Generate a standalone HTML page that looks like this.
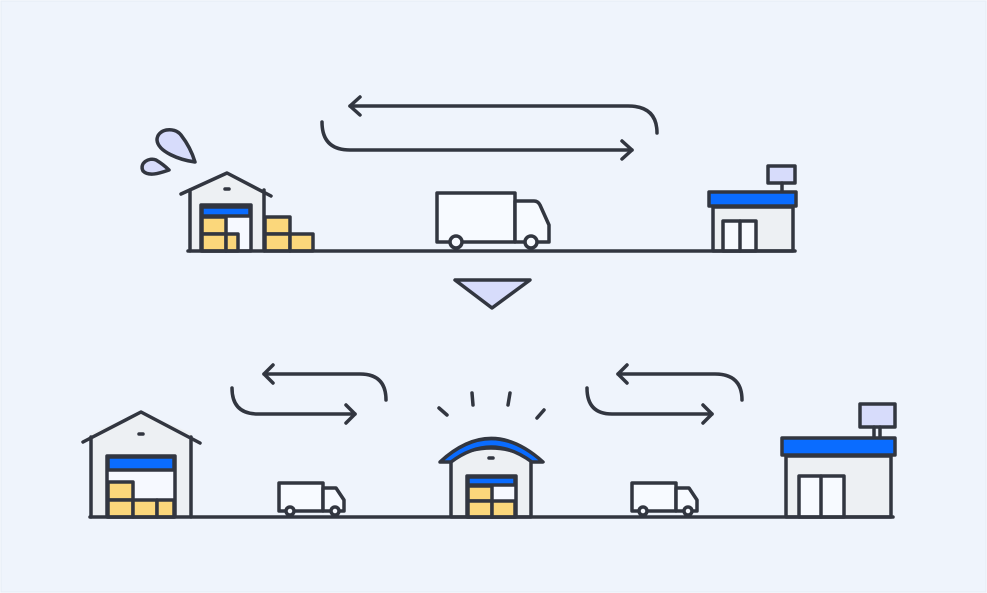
<!DOCTYPE html>
<html><head><style>html,body{margin:0;padding:0;background:#fafcff}svg{display:block}</style></head><body>
<svg width="987" height="593" viewBox="0 0 987 593" xmlns="http://www.w3.org/2000/svg">
<rect x="1" y="1" width="985" height="591" fill="#eff4fc" stroke="#e6ecf5"/>
<g fill="none" stroke="#323640" stroke-width="3.5" stroke-linecap="round" stroke-linejoin="round">
<!-- top arrows -->
<path d="M350 106 H628 Q657 106 657 133"/><path d="M360 97 L350 106 L360 115"/>
<path d="M322 122 Q322 150 350 150 H632"/><path d="M622 141 L632 150 L622 159"/>
<!-- drops -->
<path d="M195 162 C180 160 158 152 157 140 C157 129 174 126 181 135 C188 144 192 152 195 162 Z" fill="#d7dcfb"/>
<path d="M169 170 C160 173 149 177 143 171 C139 163 149 157 156 160 C161 163 165 166 169 170 Z" fill="#d7dcfb"/>
<!-- top warehouse -->
<path d="M190 251 V190 L227 173 L264 190 V251 Z" fill="#edf0f3" stroke="none"/>
<path d="M181 194 L227 173 L271 196"/><path d="M190 190 V251"/><path d="M264 190 V251"/>
<line x1="225" y1="189" x2="229" y2="189"/>
<rect x="201" y="205" width="50" height="46" fill="#f6f9ff"/>
<rect x="202" y="207" width="48" height="9" fill="#0a6cff"/>
<rect x="202" y="217" width="24" height="17" fill="#fbd77b"/>
<rect x="202" y="234" width="24" height="17" fill="#fbd77b"/>
<rect x="226" y="234" width="12" height="17" fill="#fbd77b"/>
<rect x="265" y="217" width="25" height="17" fill="#fbd77b"/>
<rect x="265" y="234" width="25" height="17" fill="#fbd77b"/>
<rect x="290" y="234" width="23" height="17" fill="#fbd77b"/>
<!-- top truck -->
<rect x="437" y="193" width="78" height="49" fill="#f7faff"/>
<path d="M515 201 H534 Q538 201 540 205 L549 225 V242 H515 Z" fill="#f7faff"/>
<circle cx="456" cy="242" r="6" fill="#f7faff"/><circle cx="531" cy="242" r="6" fill="#f7faff"/>
<!-- top store -->
<rect x="713" y="207" width="80" height="44" fill="#edf0f3"/>
<rect x="768" y="166" width="27" height="17" fill="#d7dcfb"/>
<line x1="782" y1="183" x2="782" y2="191"/>
<rect x="709" y="192" width="87" height="14" fill="#0a6cff"/>
<rect x="723" y="221" width="33" height="30" fill="#f7faff"/><line x1="740" y1="221" x2="740" y2="251"/>
<line x1="188" y1="251" x2="795" y2="251"/>
<!-- triangle -->
<path d="M455 280 H530 L492 308 Z" fill="#d7dcfb"/>
<!-- bottom arrows -->
<path d="M264 374 H360 Q386 374 386 400"/><path d="M273 365 L264 374 L273 383"/>
<path d="M232 388 Q232 414 258 414 H355"/><path d="M346 405 L355 414 L346 423"/>
<path d="M618 374 H715 Q742 374 742 400"/><path d="M627 365 L618 374 L627 383"/>
<path d="M587 388 Q587 414 612 414 H712"/><path d="M703 405 L712 414 L703 423"/>
<!-- bottom left warehouse -->
<path d="M91 517 V433 L141 412 L191 433 V517 Z" fill="#edf0f3" stroke="none"/>
<path d="M83 442 L141 412 L200 443"/><path d="M91 437 V517"/><path d="M191 437 V517"/>
<line x1="139" y1="434" x2="143" y2="434"/>
<rect x="107" y="456" width="68" height="61" fill="#f6f9ff"/>
<rect x="108" y="457" width="66" height="13" fill="#0a6cff"/>
<rect x="108" y="482" width="25" height="18" fill="#fbd77b"/>
<rect x="108" y="500" width="25" height="17" fill="#fbd77b"/>
<rect x="133" y="500" width="24" height="17" fill="#fbd77b"/>
<rect x="157" y="500" width="17" height="17" fill="#fbd77b"/>
<!-- trucks small -->
<rect x="279" y="483" width="44" height="28" fill="#f7faff"/>
<path d="M323 488 H336 L344 500 V511 H323 Z" fill="#f7faff"/>
<circle cx="290" cy="511" r="4" fill="#f7faff"/><circle cx="335" cy="511" r="4" fill="#f7faff"/>
<rect x="632" y="483" width="44" height="28" fill="#f7faff"/>
<path d="M676 488 H689 L697 500 V511 H676 Z" fill="#f7faff"/>
<circle cx="643" cy="511" r="4" fill="#f7faff"/><circle cx="688" cy="511" r="4" fill="#f7faff"/>
<!-- hub -->
<path d="M451 517 V458 Q491 438 531 458 V517 Z" fill="#edf0f3"/>
<path d="M440 462 Q491 415 543 462 L532 462 Q491 432 451 462 Z" fill="#0a6cff"/>
<line x1="489" y1="458" x2="493" y2="458"/>
<rect x="467" y="476" width="49" height="41" fill="#f6f9ff"/>
<rect x="468" y="477" width="47" height="8" fill="#0a6cff"/>
<rect x="468" y="486" width="24" height="15" fill="#fbd77b"/>
<rect x="468" y="501" width="24" height="16" fill="#fbd77b"/>
<rect x="492" y="501" width="23" height="16" fill="#fbd77b"/>
<line x1="439" y1="408" x2="447" y2="415"/><line x1="472" y1="393" x2="473" y2="405"/>
<line x1="510" y1="393" x2="508" y2="405"/><line x1="544" y1="410" x2="537" y2="418"/>
<!-- right store -->
<rect x="786" y="456" width="105" height="61" fill="#edf0f3"/>
<rect x="860" y="404" width="35" height="23" fill="#d7dcfb"/>
<path d="M874 427 V437 M880 427 V437"/>
<rect x="782" y="438" width="113" height="17" fill="#0a6cff"/>
<rect x="799" y="476" width="45" height="41" fill="#f7faff"/><line x1="821" y1="476" x2="821" y2="517"/>
<line x1="90" y1="517" x2="893" y2="517"/>
</g>
</svg>
</body></html>
